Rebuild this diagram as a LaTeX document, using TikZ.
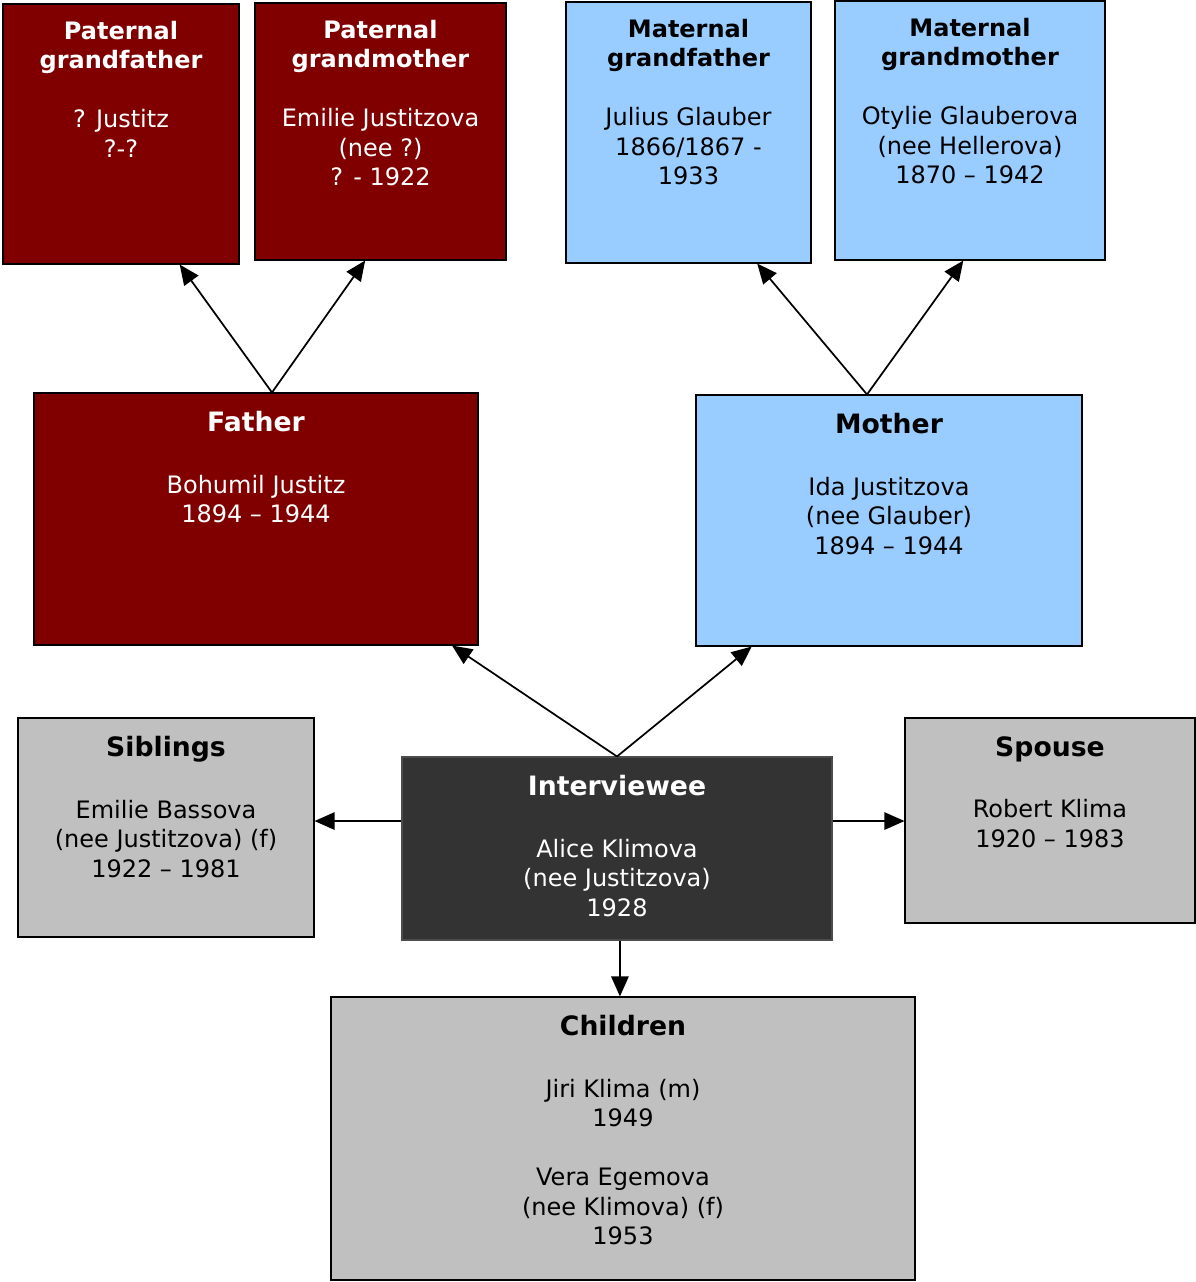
\documentclass[tikz,border=0pt]{standalone}
\usepackage{fontspec}
\setmainfont{DejaVu Sans}
\usetikzlibrary{fit,calc,positioning,arrows.meta}
\definecolor{patred}{HTML}{800000}
\definecolor{matblue}{HTML}{99CCFF}
\definecolor{relgray}{HTML}{C0C0C0}
\definecolor{selfgray}{HTML}{333333}
\newcommand\ttlfont{\fontsize{20}{24}\selectfont\bfseries}

\begin{document}
\begin{tikzpicture}[x=0.75pt, y=-0.75pt,
    box/.style={draw=black, line width=0.8pt, inner sep=0pt},
    redbox/.style={box, fill=patred},
    bluebox/.style={box, fill=matblue},
    graybox/.style={box, fill=relgray},
    darkbox/.style={box, fill=selfgray, draw=black!70},
    txt/.style={align=center, inner sep=0pt, font=\fontsize{18}{22.1}\selectfont},
    arr/.style={-{Triangle[length=15pt, width=13pt]}, line width=1.3pt}]
\useasboundingbox (0,0) rectangle (1196,1282);

\node[redbox,  fit={(3,4) (239,264)}]      (pgf) {};
\node[redbox,  fit={(255,3) (506,260)}]    (pgm) {};
\node[bluebox, fit={(566,2) (811,263)}]    (mgf) {};
\node[bluebox, fit={(835,1) (1105,260)}]   (mgm) {};
\node[redbox,  fit={(34,393) (478,645)}]   (fa)  {};
\node[bluebox, fit={(696,395) (1082,646)}] (mo)  {};
\node[graybox, fit={(18,718) (314,937)}]   (sib) {};
\node[darkbox, fit={(402,757) (832,940)}]  (iv)  {};
\node[graybox, fit={(905,718) (1195,923)}] (sp)  {};
\node[graybox, fit={(331,997) (915,1280)}] (ch)  {};

\node[txt, white, below=13pt of pgf.north] (pgft) {\textbf{Paternal}\\\textbf{grandfather}\\[22.1pt]? Justitz\\?-?};
\node[txt, white, below=13pt of pgm.north] (pgmt) {\textbf{Paternal}\\\textbf{grandmother}\\[22.1pt]Emilie Justitzova\\(nee ?)\\? - 1922};
\node[txt, below=13pt of mgf.north] (mgft) {\textbf{Maternal}\\\textbf{grandfather}\\[22.1pt]Julius Glauber\\1866/1867 -\\1933};
\node[txt, below=13pt of mgm.north] (mgmt) {\textbf{Maternal}\\\textbf{grandmother}\\[22.1pt]Otylie Glauberova\\(nee Hellerova)\\1870 – 1942};
\node[txt, white, below=14pt of fa.north] (fat) {{\ttlfont Father}\\[24pt]Bohumil Justitz\\1894 – 1944};
\node[txt, below=14pt of mo.north] (mot) {{\ttlfont Mother}\\[24pt]Ida Justitzova\\(nee Glauber)\\1894 – 1944};
\node[txt, below=14pt of sib.north] (sibt) {{\ttlfont Siblings}\\[24pt]Emilie Bassova\\(nee Justitzova) (f)\\1922 – 1981};
\node[txt, white, below=14pt of iv.north] (ivt) {{\ttlfont Interviewee}\\[24pt]Alice Klimova\\(nee Justitzova)\\1928};
\node[txt, below=14pt of sp.north] (spt) {{\ttlfont Spouse}\\[24pt]Robert Klima\\1920 – 1983};
\node[txt, below=14pt of ch.north] (cht) {{\ttlfont Children}\\[24pt]Jiri Klima (m)\\1949\\[22.1pt]Vera Egemova\\(nee Klimova) (f)\\1953};

\coordinate (fatop) at ([xshift=12pt]fa.north);
\coordinate (motop) at ([xshift=-16.5pt]mo.north);
\coordinate (ivtop) at (iv.north);
\coordinate (ivl) at ([yshift=20.6pt]iv.west);
\coordinate (ivr) at ([yshift=20.6pt]iv.east);
\coordinate (ivbot) at ([xshift=2.2pt]iv.south);

\draw[arr] (fatop) -- ([xshift=44pt]pgf.south);
\draw[arr] (fatop) -- ([xshift=-11.5pt]pgm.south);
\draw[arr] (motop) -- ([xshift=51.5pt]mgf.south);
\draw[arr] (motop) -- ([xshift=-5pt]mgm.south);
\draw[arr] (ivtop) -- ([xshift=147pt]fa.south);
\draw[arr] (ivtop) -- ([xshift=-103pt]mo.south);
\draw[arr] (ivl) -- (ivl -| sib.east);
\draw[arr] (ivr) -- (ivr -| sp.west);
\draw[arr] (ivbot) -- (ivbot |- ch.north);
\end{tikzpicture}
\end{document}
